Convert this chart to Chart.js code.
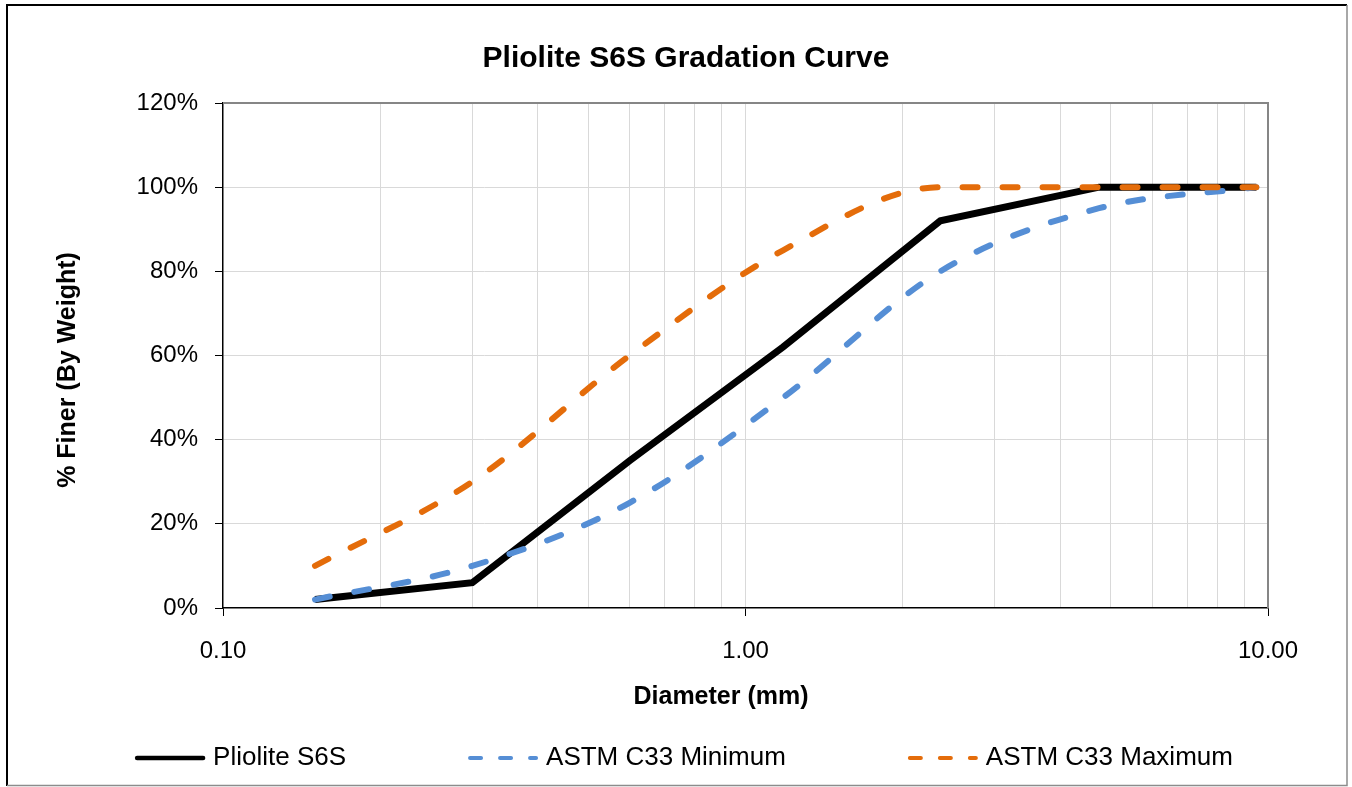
<!DOCTYPE html>
<html>
<head>
<meta charset="utf-8">
<title>Pliolite S6S Gradation Curve</title>
<script src="https://cdn.jsdelivr.net/npm/chart.js@4.4.1/dist/chart.umd.min.js"></script>
<style>
  html, body { margin: 0; padding: 0; background: #fff; }
  #wrap { position: relative; width: 1352px; height: 787px; }
</style>
</head>
<body>
<div id="wrap"><canvas id="chartGradation"></canvas></div>
<script>
// =====================
// 1) Data (read off the sheet)
// =====================
const sieves = [0.15, 0.3, 0.6, 1.18, 2.36, 4.75, 9.5];   // mm
const pliolite = [2, 6, 35, 62, 92, 100, 100];
const astmMin = [2, 10, 25, 50, 80, 95, 100];
const astmMax = [10, 30, 60, 85, 100, 100, 100];

const xGridTicks = [0.1, 0.2, 0.3, 0.4, 0.5, 0.6, 0.7, 0.8, 0.9, 1, 2, 3, 4, 5, 6, 7, 8, 9, 10];
const xLabelTicks = [0.1, 1, 10];
const yTicks = [0, 20, 40, 60, 80, 100, 120];

// =====================
// 2) Helpers
// =====================
const FONT = '"Liberation Sans", Arial, Helvetica, sans-serif';
const GRID = '#d9d9d9';
const BLUE = '#558ed5';
const ORANGE = '#e46c0a';

function points(values) {
  return sieves.map((d, i) => ({ x: d, y: values[i] }));
}

// frame, plot border, axis titles and legend
const decor = {
  id: 'decor',
  beforeDraw(chart) {
    const ctx = chart.ctx;
    ctx.save();
    ctx.lineWidth = 2;
    ctx.strokeStyle = '#000';
    ctx.beginPath();
    ctx.moveTo(7, 786); ctx.lineTo(7, 5); ctx.lineTo(1347, 5);
    ctx.stroke();
    ctx.lineWidth = 1.5;
    ctx.strokeStyle = '#8c8c8c';
    ctx.beginPath();
    ctx.moveTo(1347, 5); ctx.lineTo(1347, 785.5); ctx.lineTo(7, 785.5);
    ctx.stroke();
    ctx.restore();
  },
  beforeDatasetsDraw(chart) {
    const { ctx, chartArea: a } = chart;
    ctx.save();
    ctx.lineWidth = 2;
    ctx.strokeStyle = '#868686';
    ctx.beginPath();
    ctx.moveTo(a.left, a.top); ctx.lineTo(a.right, a.top); ctx.lineTo(a.right, a.bottom);
    ctx.stroke();
    ctx.restore();
  },
  afterDraw(chart) {
    const ctx = chart.ctx;
    ctx.save();
    ctx.fillStyle = '#000';
    ctx.textBaseline = 'middle';
    ctx.textAlign = 'center';
    ctx.font = 'bold 25px ' + FONT;
    ctx.fillText('Diameter (mm)', 721, 697);
    ctx.save();
    ctx.translate(68, 370);
    ctx.rotate(-Math.PI / 2);
    ctx.fillText('% Finer (By Weight)', 0, 0);
    ctx.restore();

    // legend
    ctx.font = '26px ' + FONT;
    ctx.textAlign = 'left';
    const sampleLen = 70, textGap = 8, itemGap = 122, y = 758;
    const sets = chart.data.datasets;
    const widths = sets.map((ds) => sampleLen + textGap + ctx.measureText(ds.label).width);
    const total = widths.reduce((s, w) => s + w, 0) + itemGap * (sets.length - 1);
    let x = 684 - total / 2;
    sets.forEach((ds, i) => {
      ctx.beginPath();
      ctx.strokeStyle = ds.borderColor;
      ctx.lineCap = 'round';
      if (ds.borderDash && ds.borderDash.length) {
        ctx.lineWidth = 4;
        ctx.setLineDash([11, 19]);
      } else {
        ctx.lineWidth = 4.5;
        ctx.setLineDash([]);
      }
      ctx.moveTo(x + 2, y);
      ctx.lineTo(x + sampleLen - 2, y);
      ctx.stroke();
      ctx.setLineDash([]);
      ctx.fillText(ds.label, x + sampleLen + textGap, y);
      x += widths[i] + itemGap;
    });
    ctx.restore();
  }
};

// =====================
// 3) Chart
// =====================
const ctxGradation = document.getElementById('chartGradation');

new Chart(ctxGradation, {
  type: 'line',
  data: {
    datasets: [
      {
        label: 'Pliolite S6S',
        data: points(pliolite),
        borderColor: '#000',
        borderWidth: 7,
        borderJoinStyle: 'miter',
        tension: 0,
        pointRadius: 0,
        order: 3
      },
      {
        label: 'ASTM C33 Minimum',
        data: points(astmMin),
        borderColor: BLUE,
        borderWidth: 6,
        borderDash: [15, 25],
        borderCapStyle: 'round',
        cubicInterpolationMode: 'monotone',
        pointRadius: 0,
        order: 2
      },
      {
        label: 'ASTM C33 Maximum',
        data: points(astmMax),
        borderColor: ORANGE,
        borderWidth: 6,
        borderDash: [15, 25],
        borderCapStyle: 'round',
        cubicInterpolationMode: 'monotone',
        pointRadius: 0,
        order: 1
      }
    ]
  },
  options: {
    responsive: true,
    maintainAspectRatio: false,
    animation: false,
    layout: { padding: { left: 104, right: 84, top: 0, bottom: 69 } },
    plugins: {
      legend: { display: false },
      tooltip: { enabled: false },
      title: {
        display: true,
        text: 'Pliolite S6S Gradation Curve',
        color: '#000',
        font: { family: FONT, size: 30, weight: 'bold' },
        padding: { top: 41, bottom: 26 }
      }
    },
    scales: {
      x: {
        type: 'logarithmic',
        min: 0.1,
        max: 10,
        afterBuildTicks: (scale) => {
          scale.ticks = xGridTicks.map((v) => ({ value: v, major: xLabelTicks.includes(v) }));
        },
        afterFit: (scale) => { scale.height = 110; },
        ticks: {
          autoSkip: false,
          maxRotation: 0,
          color: '#000',
          padding: 21,
          font: { family: FONT, size: 24 },
          callback: (value) => (xLabelTicks.includes(value) ? Number(value).toFixed(2) : '')
        },
        grid: {
          color: (c) => (c.tick && (c.tick.value === 0.1 || c.tick.value === 10) ? 'rgba(0,0,0,0)' : GRID),
          lineWidth: 1,
          tickLength: 8,
          tickColor: (c) => (c.tick && c.tick.major ? '#000' : 'rgba(0,0,0,0)')
        },
        border: { color: '#000', width: 1.5 }
      },
      y: {
        min: 0,
        max: 120,
        afterBuildTicks: (scale) => {
          scale.ticks = yTicks.map((v) => ({ value: v }));
        },
        afterFit: (scale) => { scale.width = 119; },
        ticks: {
          color: '#000',
          padding: 17,
          font: { family: FONT, size: 24 },
          callback: (value) => value + '%'
        },
        grid: {
          color: (c) => (c.tick && (c.tick.value === 0 || c.tick.value === 120) ? 'rgba(0,0,0,0)' : GRID),
          lineWidth: 1,
          tickLength: 8,
          tickColor: '#000'
        },
        border: { color: '#000', width: 1.5 }
      }
    }
  },
  plugins: [decor]
});
</script>
</body>
</html>
